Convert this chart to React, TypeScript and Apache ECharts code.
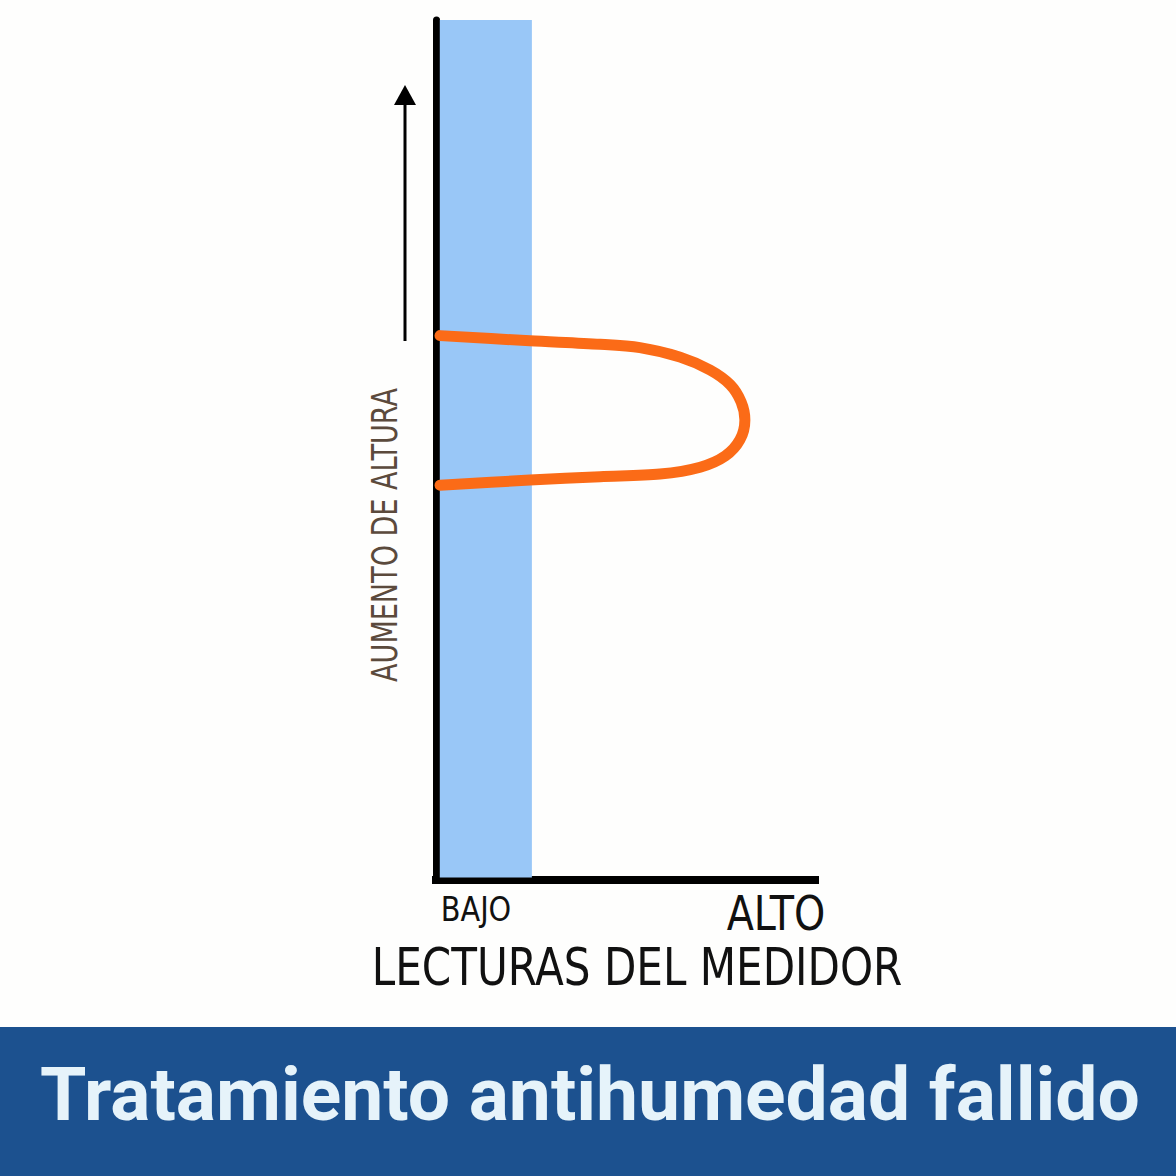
import React, { useEffect, useRef } from "react";
import * as echarts from "echarts";

// Curve of meter readings (x: reading 0-100, y: height 0-100)
const curveReadings = [1.06, 24.8, 43.3, 53.8, 64.4, 72.3, 77.6, 80.5, 81.5, 80.2, 76.3, 69.7, 59.1, 43.3, 24.8, 1.06];
const curveHeights = [63.3, 62.7, 62.3, 61.9, 60.8, 59.3, 57.6, 55.6, 53.5, 51.2, 49.3, 48.0, 47.2, 46.9, 46.5, 45.9];
// Low reading band (x range)
const lowBand = [1.0, 25.3];
const xLabels = ["BAJO", "ALTO"];
const xAxisTitle = "LECTURAS DEL MEDIDOR";
const yAxisTitle = "AUMENTO DE ALTURA";
const bannerTitle = "Tratamiento antihumedad fallido";

export default function App() {
  const ref = useRef<HTMLDivElement>(null);
  useEffect(() => {
    if (!ref.current) return;
    const chart = echarts.init(ref.current, null, { renderer: "svg" });
    const narrow = "'DejaVu Sans Condensed', 'DejaVu Sans', sans-serif";
    chart.setOption({
      animation: false,
      backgroundColor: "#fefefd",
      grid: { left: 436, top: 20, width: 379, height: 860 },
      xAxis: {
        type: "value",
        min: 0,
        max: 100,
        axisLine: { show: true, onZero: false, lineStyle: { color: "#000", width: 8, cap: "square" } },
        axisTick: { show: false },
        axisLabel: { show: false },
        splitLine: { show: false },
      },
      yAxis: {
        type: "value",
        min: 0,
        max: 100,
        axisLine: { show: true, onZero: false, lineStyle: { color: "#000", width: 7 } },
        axisTick: { show: false },
        axisLabel: { show: false },
        splitLine: { show: false },
      },
      series: [
        {
          type: "line",
          data: curveReadings.map((x, i) => [x, curveHeights[i]]),
          smooth: 0.3,
          showSymbol: false,
          z: 5,
          lineStyle: { color: "#fb6b17", width: 11, cap: "round", join: "round" },
          markArea: {
            silent: true,
            itemStyle: { color: "#99c7f7" },
            data: [[{ xAxis: lowBand[0], yAxis: 0.3 }, { xAxis: lowBand[1], yAxis: 100 }]],
          },
        },
      ],
      graphic: [
        { type: "line", shape: { x1: 405, y1: 341, x2: 405, y2: 100 }, style: { stroke: "#000", lineWidth: 3 } },
        { type: "polygon", shape: { points: [[405, 85], [394, 105], [416, 105]] }, style: { fill: "#000" } },
        {
          type: "text",
          x: 385,
          y: 535,
          rotation: Math.PI / 2,
          scaleX: 0.86,
          style: {
            text: yAxisTitle,
            font: `300 35px ${narrow}`,
            fill: "#5b4a3c",
            align: "center",
            verticalAlign: "middle",
          },
        },
        {
          type: "text",
          x: 476,
          y: 909,
          scaleX: 0.94,
          style: { text: xLabels[0], font: `400 34px ${narrow}`, fill: "#111", align: "center", verticalAlign: "middle" },
        },
        {
          type: "text",
          x: 776,
          y: 913,
          scaleX: 0.92,
          style: { text: xLabels[1], font: `400 48px ${narrow}`, fill: "#111", align: "center", verticalAlign: "middle" },
        },
        {
          type: "text",
          x: 637,
          y: 967,
          scaleX: 0.9,
          style: { text: xAxisTitle, font: `400 52px ${narrow}`, fill: "#111", align: "center", verticalAlign: "middle" },
        },
        { type: "rect", shape: { x: 0, y: 1027, width: 1176, height: 149 }, style: { fill: "#1c518f" } },
        {
          type: "text",
          x: 590,
          y: 1094,
          style: {
            text: bannerTitle,
            font: "bold 75px Roboto, sans-serif",
            fill: "#e6f3fa",
            align: "center",
            verticalAlign: "middle",
          },
        },
      ],
    });
    return () => chart.dispose();
  }, []);
  return <div ref={ref} style={{ position: "fixed", left: 0, top: 0, width: 1176, height: 1176 }} />;
}
